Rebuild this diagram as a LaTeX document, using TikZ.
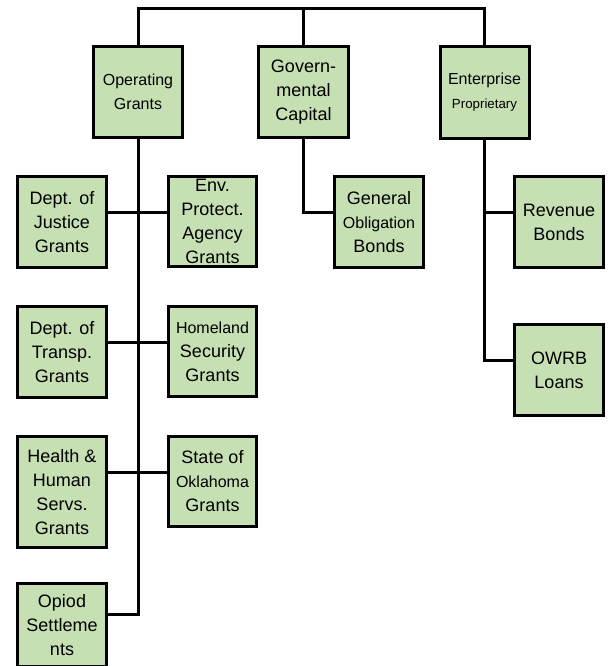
\documentclass[tikz,border=0pt]{standalone}
\usepackage{fontspec}
\setmainfont{Liberation Sans}
\definecolor{boxgreen}{HTML}{C6E0B4}
\begin{document}
\begin{tikzpicture}[x=1pt,y=-1pt,
  box/.style={draw=black, line width=3pt, fill=boxgreen, minimum width=89pt,
    minimum height=91pt, inner sep=0pt, align=center,
    font=\fontsize{18}{24}\selectfont},
  conn/.style={line width=3pt, line join=miter}]
\useasboundingbox (0,0) rectangle (612,666);
\clip (0,0) rectangle (612,666);
% junction coordinates
\coordinate (bus) at (0,9);
\coordinate (r1) at (0,212);
\coordinate (r2) at (0,342);
\coordinate (r3) at (0,472);
\coordinate (r4) at (0,614);
\coordinate (r5) at (0,360);
% top level
\node[box] (OG) at (138,92) {\fontsize{16}{21}\selectfont Operating\\\fontsize{16}{21}\selectfont Grants};
\node[box, minimum width=90pt] (GC) at (303.5,92) {Govern-\\mental\\Capital};
\node[box, minimum height=92pt] (EP) at (484.5,92.5) {\fontsize{16}{19}\selectfont Enterprise\\\fontsize{13.3}{19}\selectfont Proprietary};
% operating children
\node[box] (DJ) at (62,222) {Dept. of\\Justice\\Grants};
\node[box, minimum width=88pt, minimum height=90pt] (EPA) at (212.5,221.5) {\fontsize{18}{23}\selectfont Env.\\\fontsize{18}{23}\selectfont Protect.\\\fontsize{18}{23}\selectfont Agency\\\fontsize{18}{23}\selectfont Grants};
\node[box] (DT) at (62,352) {Dept. of\\Transp.\\Grants};
\node[box, minimum width=88pt, minimum height=90pt] (HS) at (212.5,351.5) {{\fontsize{16}{24}\selectfont Homeland}\\Security\\Grants};
\node[box, minimum height=111pt] (HH) at (62,492) {Health \&\\Human\\Servs.\\Grants};
\node[box, minimum width=88pt, minimum height=90pt] (SO) at (212.5,481.5) {State of\\{\fontsize{16}{24}\selectfont Oklahoma}\\Grants};
\node[box, minimum height=83pt] (OS) at (62,625) {Opiod\\Settleme\\nts};
% governmental child
\node[box] (GO) at (379,222) {\fontsize{18}{22}\selectfont General\\{\fontsize{16}{22}\selectfont Obligation}\\\fontsize{18}{22}\selectfont Bonds};
% enterprise children
\node[box] (RB) at (559,222) {Revenue\\Bonds};
\node[box] (OW) at (559,370) {OWRB\\Loans};
% connectors
\draw[conn] (OG.north) -- (OG.north|-bus) -- (EP.north|-bus) -- (EP.north);
\draw[conn] (GC.north) -- (GC.north|-bus);
\draw[conn] (OG.south) -- (OG.south|-r4) -- (OS.east|-r4);
\draw[conn] (DJ.east|-r1) -- (EPA.west|-r1);
\draw[conn] (DT.east|-r2) -- (HS.west|-r2);
\draw[conn] (HH.east|-r3) -- (SO.west|-r3);
\draw[conn] (GC.south) |- (GO.west|-r1);
\draw[conn] (EP.south) |- (OW.west|-r5);
\draw[conn] (EP.south|-r1) -- (RB.west|-r1);
\end{tikzpicture}
\end{document}
